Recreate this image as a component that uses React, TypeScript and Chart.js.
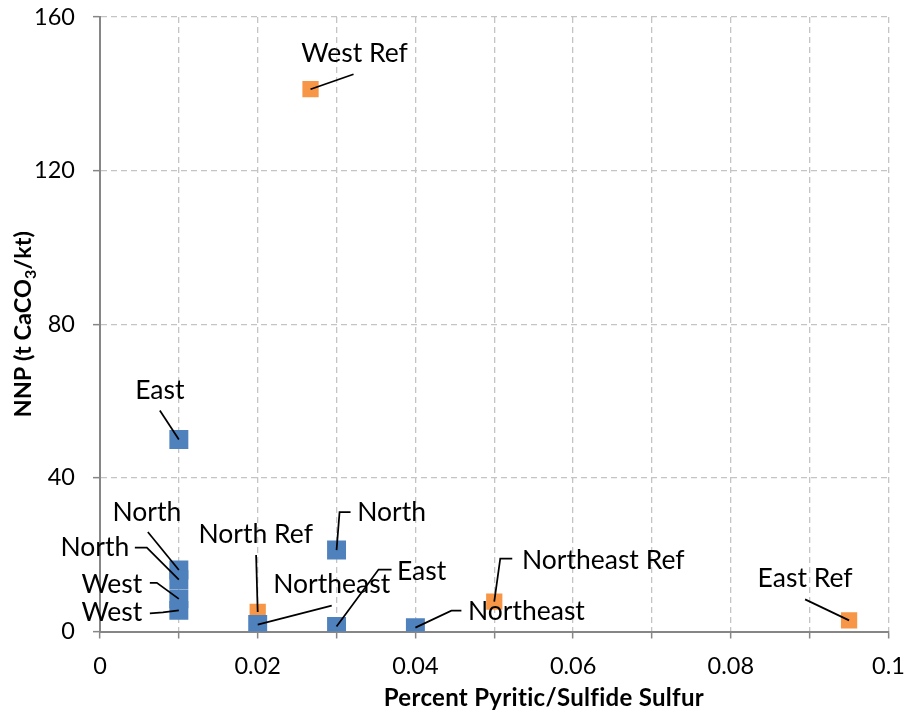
import React, { useEffect, useRef } from 'react';
import { Chart, registerables } from 'chart.js';

Chart.register(...registerables);

// ---- data ----
const blueX = [0.01, 0.01, 0.01, 0.01, 0.01, 0.02, 0.03, 0.03, 0.04];
const blueY = [50, 16, 13.5, 8.5, 5.5, 1.8, 21.2, 1.3, 1.0];
const blueLabels = ['East', 'North', 'North', 'West', 'West', 'Northeast', 'North', 'East', 'Northeast'];

const orangeX = [0.0267, 0.02, 0.05, 0.095];
const orangeY = [141.2, 5.1, 7.8, 2.9];
const orangeLabels = ['West Ref', 'North Ref', 'Northeast Ref', 'East Ref'];

const xMin = 0;
const xMax = 0.1;
const xStep = 0.01;
const yMin = 0;
const yMax = 160;
const yStep = 40;

const xTitle = 'Percent Pyritic/Sulfide Sulfur';
const yTitleParts = ['NNP (t CaCO', '3', '/kt)'];

// ---- label layout (offsets from the point, in px) ----
type LabelPos = { dx: number; dy: number; leader: number[][] };
const blueLabelPos: LabelPos[] = [
  { dx: -19, dy: -40, leader: [[-19, -29]] },
  { dx: -32, dy: -49, leader: [[-31, -38]] },
  { dx: -84, dy: -24, leader: [[-44, -32], [-32, -32]] },
  { dx: -67, dy: -6, leader: [[-29, -16], [-22, -16]] },
  { dx: -67, dy: 11, leader: [[-29, 3], [-16, 2]] },
  { dx: 74, dy: -32, leader: [[74, -19]] },
  { dx: 55, dy: -29, leader: [[14, -38], [3, -38]] },
  { dx: 85, dy: -47, leader: [[55, -57], [42, -57]] },
  { dx: 111, dy: -8, leader: [[46, -17], [36, -17]] },
];
const orangeLabelPos: LabelPos[] = [
  { dx: 44, dy: -27, leader: [[43, -15]] },
  { dx: -2, dy: -69, leader: [[-1.6, -57]] },
  { dx: 109, dy: -33, leader: [[18, -43], [6, -43]] },
  { dx: -44, dy: -33, leader: [[-44, -21]] },
];

const FONT = "Lato, 'Open Sans', sans-serif";
const BLUE = '#4f81bd';
const ORANGE = '#f79646';
const AXIS = '#868686';
const GRID = '#c4c4c4';

const labelPlugin = {
  id: 'pointLabels',
  afterDatasetsDraw(chart: any) {
    const ctx = chart.ctx;
    const groups = [
      { idx: 0, labels: blueLabels, pos: blueLabelPos },
      { idx: 1, labels: orangeLabels, pos: orangeLabelPos },
    ];
    ctx.save();
    for (const g of groups) {
      const meta = chart.getDatasetMeta(g.idx);
      meta.data.forEach((el: any, j: number) => {
        const p = g.pos[j];
        const px = el.x;
        const py = el.y;
        ctx.beginPath();
        ctx.strokeStyle = '#000';
        ctx.lineWidth = 1.75;
        p.leader.forEach((pt, k) => {
          if (k === 0) ctx.moveTo(px + pt[0], py + pt[1]);
          else ctx.lineTo(px + pt[0], py + pt[1]);
        });
        ctx.lineTo(px, py);
        ctx.stroke();
        ctx.fillStyle = '#000';
        ctx.font = `26.5px ${FONT}`;
        ctx.textAlign = 'center';
        ctx.textBaseline = 'alphabetic';
        ctx.fillText(g.labels[j], px + p.dx, py + p.dy);
      });
    }
    ctx.restore();
  },
  afterDraw(chart: any) {
    const ctx = chart.ctx;
    const area = chart.chartArea;
    ctx.save();
    ctx.fillStyle = '#000';
    ctx.font = `bold 24px ${FONT}`;
    ctx.textAlign = 'center';
    ctx.textBaseline = 'alphabetic';
    try { (ctx as any).letterSpacing = '0.3px'; } catch (e) { /* ignore */ }
    const xc = area.left + (area.right - area.left) * 0.563;
    ctx.fillText(xTitle, xc, chart.height - 6);
    try { (ctx as any).letterSpacing = '0px'; } catch (e) { /* ignore */ }
    const big = `bold 23.5px ${FONT}`;
    const small = `bold 16px ${FONT}`;
    ctx.font = big;
    const w0 = ctx.measureText(yTitleParts[0]).width;
    const w2 = ctx.measureText(yTitleParts[2]).width;
    ctx.font = small;
    const w1 = ctx.measureText(yTitleParts[1]).width;
    const total = w0 + w1 + w2;
    const yc = (area.top + area.bottom) / 2;
    ctx.translate(30.5, yc);
    ctx.rotate(-Math.PI / 2);
    ctx.textAlign = 'left';
    let u = -total / 2;
    ctx.font = big;
    ctx.fillText(yTitleParts[0], u, 0);
    u += w0;
    ctx.font = small;
    ctx.fillText(yTitleParts[1], u, 5);
    u += w1;
    ctx.font = big;
    ctx.fillText(yTitleParts[2], u, 0);
    ctx.restore();
  },
};

const zeroPad = (s: any) => {
  s.paddingTop = 0;
  s.paddingBottom = 0;
  s.paddingLeft = 0;
  s.paddingRight = 0;
};

export default function App() {
  const ref = useRef<HTMLCanvasElement | null>(null);
  useEffect(() => {
    document.body.style.margin = '0';
    const canvas = ref.current!;
    const chart = new Chart(canvas, {
      type: 'scatter',
      data: {
        datasets: [
          {
            label: 'Sites',
            data: blueX.map((x, i) => ({ x, y: blueY[i] })),
            backgroundColor: BLUE,
            borderWidth: 0,
            pointStyle: 'rect',
            pointRadius: 13.4,
            pointHoverRadius: 13.4,
          },
          {
            label: 'Reference',
            data: orangeX.map((x, i) => ({ x, y: orangeY[i] })),
            backgroundColor: ORANGE,
            borderWidth: 0,
            pointStyle: 'rect',
            pointRadius: 11.5,
            pointHoverRadius: 11.5,
          },
        ],
      },
      options: {
        animation: false,
        responsive: false,
        devicePixelRatio: 1,
        events: [],
        layout: { padding: { top: 17, right: 19.5, bottom: 0, left: 0 } },
        plugins: {
          legend: { display: false },
          tooltip: { enabled: false },
          title: { display: false },
        },
        scales: {
          x: {
            type: 'linear',
            min: xMin,
            max: xMax,
            afterFit: (s: any) => { s.height = 80.5; zeroPad(s); },
            ticks: {
              stepSize: xStep,
              autoSkip: false,
              maxRotation: 0,
              padding: 14,
              color: '#000',
              font: { family: FONT, size: 23.5 },
              callback: (v: any, i: number) => (i % 2 === 0 ? String(Number(Number(v).toFixed(2))) : ''),
            },
            grid: {
              color: GRID,
              lineWidth: 1.3,
              tickColor: AXIS,
              tickLength: 7,
              tickWidth: 1.5,
            },
            border: { color: AXIS, width: 2, dash: [6, 4] },
          },
          y: {
            type: 'linear',
            min: yMin,
            max: yMax,
            afterFit: (s: any) => { s.width = 100; zeroPad(s); },
            ticks: {
              stepSize: yStep,
              padding: 18,
              color: '#000',
              font: { family: FONT, size: 23.5 },
            },
            grid: {
              color: GRID,
              lineWidth: 1.3,
              tickColor: AXIS,
              tickLength: 7,
              tickWidth: 1.5,
            },
            border: { color: AXIS, width: 2, dash: [6, 4] },
          },
        },
      },
      plugins: [labelPlugin],
    } as any);
    return () => chart.destroy();
  }, []);
  return (
    <div style={{ position: 'absolute', left: 0, top: 0, width: 908, height: 712, background: '#fff' }}>
      <canvas ref={ref} width={908} height={712} />
    </div>
  );
}
